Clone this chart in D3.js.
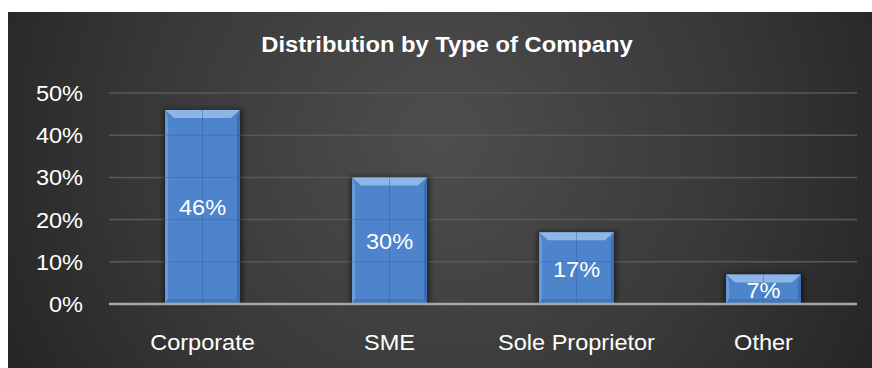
<!DOCTYPE html>
<html>
<head>
<meta charset="utf-8">
<script src="https://cdn.jsdelivr.net/npm/d3@7"></script>
<style>
  body { margin: 0; background: #fff; }
  text { font-family: "Liberation Sans", Arial, sans-serif; fill: #fff; }
</style>
</head>
<body>
<div id="chart"></div>
<script>
// data
var categories = ["Corporate", "SME", "Sole Proprietor", "Other"];
var shares = [0.46, 0.30, 0.17, 0.07];
var yTicks = [0, 0.1, 0.2, 0.3, 0.4, 0.5];
var title = "Distribution by Type of Company";

var W = 872, H = 368;
var sx = 1.07; // text in the picture is a bit wide

var svg = d3.select("#chart").append("svg")
    .attr("width", W)
    .attr("height", H);

var defs = svg.append("defs");
var bg = defs.append("radialGradient")
    .attr("id", "bg")
    .attr("gradientUnits", "userSpaceOnUse")
    .attr("cx", 440).attr("cy", 140).attr("r", 520);
bg.append("stop").attr("offset", "0%").attr("stop-color", "#4e4e4e");
bg.append("stop").attr("offset", "55%").attr("stop-color", "#393939");
bg.append("stop").attr("offset", "100%").attr("stop-color", "#222");

var blur = defs.append("filter").attr("id", "shadow")
    .attr("x", "-20%").attr("y", "-20%").attr("width", "140%").attr("height", "140%");
blur.append("feGaussianBlur").attr("stdDeviation", 2.5);

svg.append("rect")
    .attr("x", 8).attr("y", 12)
    .attr("width", W - 8).attr("height", H - 12)
    .attr("fill", "url(#bg)");

var x = d3.scaleBand()
    .domain(categories)
    .range([109, 857])
    .paddingInner(0.6)
    .paddingOuter(0.3);

var y = d3.scaleLinear()
    .domain([0, 0.5])
    .range([304, 93]);

// gridlines
svg.append("g").selectAll("line")
    .data(yTicks.filter(function(d) { return d > 0; }))
    .enter().append("line")
    .attr("x1", 109).attr("x2", 857)
    .attr("y1", function(d) { return y(d); })
    .attr("y2", function(d) { return y(d); })
    .attr("stroke", "#595959")
    .attr("stroke-width", 1.5);

// y labels
svg.append("g").selectAll("text")
    .data(yTicks)
    .enter().append("text")
    .attr("transform", function(d) { return "translate(83," + (y(d) + 8) + ") scale(" + sx + ",1)"; })
    .attr("text-anchor", "end")
    .style("font-size", "22px")
    .text(d3.format(".0%"));

// bars
var bars = svg.append("g").selectAll("g")
    .data(shares)
    .enter().append("g")
    .attr("transform", function(d, i) { return "translate(" + x(categories[i]) + ",0)"; });

var bw = x.bandwidth();

bars.append("rect")
    .attr("x", -2).attr("y", function(d) { return y(d) - 1; })
    .attr("width", bw + 5)
    .attr("height", function(d) { return y(0) - y(d) + 1; })
    .attr("fill", "#000")
    .attr("opacity", 0.45)
    .attr("filter", "url(#shadow)");

bars.append("rect")
    .attr("x", 0).attr("y", function(d) { return y(d); })
    .attr("width", bw)
    .attr("height", function(d) { return y(0) - y(d); })
    .attr("fill", "#4d84cb");

// bevel: top, sides, bottom
var bev = 8, side = 3;
bars.append("path")
    .attr("d", function(d) {
      var t = y(d);
      return "M0," + t + "L" + bw + "," + t + "L" + (bw - side * 3) + "," + (t + bev) +
             "L" + (side * 3) + "," + (t + bev) + "Z";
    })
    .attr("fill", "#8fb5e6");
bars.append("path")
    .attr("d", function(d) {
      var t = y(d), b = y(0);
      return "M0," + t + "L" + (side) + "," + (t + bev) + "L" + side + "," + (b - 5) + "L0," + b + "Z";
    })
    .attr("fill", "#6a9bd9");
bars.append("path")
    .attr("d", function(d) {
      var t = y(d), b = y(0);
      return "M" + bw + "," + t + "L" + (bw - side) + "," + (t + bev) + "L" + (bw - side) + "," + (b - 5) + "L" + bw + "," + b + "Z";
    })
    .attr("fill", "#3d6eb0");
bars.append("path")
    .attr("d", function(d) {
      var b = y(0);
      return "M0," + b + "L" + side + "," + (b - 5) + "L" + (bw - side) + "," + (b - 5) + "L" + bw + "," + b + "Z";
    })
    .attr("fill", "#4478bd");

// faint lines through the bars
bars.append("line")
    .attr("x1", bw / 2).attr("x2", bw / 2)
    .attr("y1", function(d) { return y(d); })
    .attr("y2", y(0))
    .attr("stroke", "#2f5f9e")
    .attr("stroke-opacity", 0.45);
bars.each(function(d) {
  d3.select(this).selectAll("line.g")
    .data(yTicks.filter(function(t) { return t > 0 && t < d; }))
    .enter().append("line")
    .attr("class", "g")
    .attr("x1", 0).attr("x2", bw)
    .attr("y1", function(t) { return y(t); })
    .attr("y2", function(t) { return y(t); })
    .attr("stroke", "#2f5f9e")
    .attr("stroke-opacity", 0.4);
});

// value labels
bars.append("text")
    .attr("transform", function(d) { return "translate(" + (bw / 2) + "," + ((y(d) + y(0)) / 2 + 8.5) + ") scale(" + sx + ",1)"; })
    .attr("text-anchor", "middle")
    .style("font-size", "22px")
    .text(d3.format(".0%"));

// baseline
svg.append("line")
    .attr("x1", 109).attr("x2", 857)
    .attr("y1", y(0)).attr("y2", y(0))
    .attr("stroke", "#a6a6a6")
    .attr("stroke-width", 2.5);

// category labels
svg.append("g").selectAll("text")
    .data(categories)
    .enter().append("text")
    .attr("transform", function(d) { return "translate(" + (x(d) + bw / 2) + ",350) scale(" + sx + ",1)"; })
    .attr("text-anchor", "middle")
    .style("font-size", "22px")
    .text(function(d) { return d; });

// title
svg.append("text")
    .attr("transform", "translate(447,52) scale(1.08,1)")
    .attr("text-anchor", "middle")
    .style("font-size", "22px")
    .style("font-weight", "bold")
    .text(title);
</script>
</body>
</html>
